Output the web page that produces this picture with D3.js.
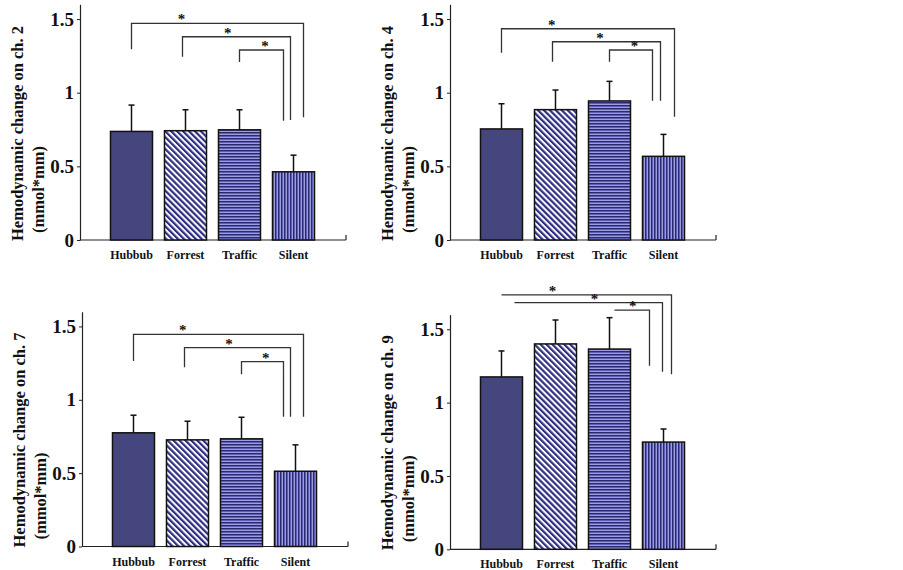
<!DOCTYPE html>
<html>
<head>
<meta charset="utf-8">
<script src="https://cdn.jsdelivr.net/npm/d3@7"></script>
<style>
  body { margin: 0; background: #fff; }
  text { font-family: "Liberation Serif", "Times New Roman", serif; font-weight: bold; }
</style>
</head>
<body>
<script>
// --- data ---
const categories = ["Hubbub", "Forrest", "Traffic", "Silent"];
const channels = ["ch. 2", "ch. 4", "ch. 7", "ch. 9"];
const means = [
  [0.737, 0.742, 0.748, 0.463],
  [0.754, 0.885, 0.944, 0.568],
  [0.775, 0.727, 0.734, 0.513],
  [1.175, 1.400, 1.365, 0.731]
];
const sds = [
  [0.179, 0.142, 0.136, 0.113],
  [0.171, 0.133, 0.133, 0.149],
  [0.120, 0.127, 0.147, 0.180],
  [0.177, 0.163, 0.214, 0.089]
];
const yTicks = [0, 0.5, 1, 1.5];
// significance brackets: from category -> Silent, bar level, left/right leg ends (in y units)
const brackets = [
  [ {from: "Hubbub", level: 1.471, left: 1.295, right: 0.833},
    {from: "Forrest", level: 1.380, left: 1.244, right: 0.815},
    {from: "Traffic", level: 1.290, left: 1.208, right: 0.810} ],
  [ {from: "Hubbub", level: 1.434, left: 1.272, right: 0.837},
    {from: "Forrest", level: 1.346, left: 1.210, right: 0.946},
    {from: "Traffic", level: 1.290, left: 1.210, right: 0.946} ],
  [ {from: "Hubbub", level: 1.446, left: 1.265, right: 0.885},
    {from: "Forrest", level: 1.355, left: 1.222, right: 0.885},
    {from: "Traffic", level: 1.260, left: 1.174, right: 0.885} ],
  [ {from: "Hubbub", level: 1.734, left: null, right: 1.193},
    {from: "Hubbub", level: 1.681, left: null, right: 1.211},
    {from: "Traffic", level: 1.631, left: null, right: 1.252} ]
];

// --- layout ---
const panels = [
  {ax: 80,  base: 240,   k: 147.3},
  {ax: 450, base: 240,   k: 147.3},
  {ax: 82,  base: 546.5, k: 146.7},
  {ax: 450, base: 549.3, k: 146.7}
];
// x offsets (px) of bracket ends: left relative to band centre, right relative to Silent band start; star at fraction
const bracketGeom = [
  [ {l: 0, r: 31, s: 0.29}, {l: -3, r: 18, s: 0.42}, {l: 0, r: 11, s: 0.58} ],
  [ {l: 0, r: 32, s: 0.29}, {l: -3, r: 18, s: 0.44}, {l: 0, r: 10, s: 0.58} ],
  [ {l: 0, r: 29, s: 0.29}, {l: -3, r: 16, s: 0.42}, {l: 0, r: 9,  s: 0.58} ],
  [ {l: 0, r: 29, s: 0.30}, {l: 13, r: 20, s: 0.54}, {l: 5, r: 7,  s: 0.52} ]
];

const navy = "#46467f";
const svg = d3.select("body").append("svg")
  .attr("width", 903)
  .attr("height", 570);

const defs = svg.append("defs");
const pDiag = defs.append("pattern").attr("id", "pDiag")
  .attr("patternUnits", "userSpaceOnUse").attr("width", 4.2).attr("height", 4.2)
  .attr("patternTransform", "rotate(-45)");
pDiag.append("rect").attr("width", 4.2).attr("height", 4.2).attr("fill", "#fff");
pDiag.append("rect").attr("width", 2.2).attr("height", 4.2).attr("fill", "#2e2e82");

// horizontal stripes: dark / mid / light rows
const pHor = defs.append("pattern").attr("id", "pHor")
  .attr("patternUnits", "userSpaceOnUse").attr("width", 4).attr("height", 3);
pHor.append("rect").attr("width", 4).attr("height", 3).attr("fill", "#5d5db3");
pHor.append("rect").attr("width", 4).attr("height", 1).attr("fill", "#2a2a72");
pHor.append("rect").attr("y", 2).attr("width", 4).attr("height", 1).attr("fill", "#9d9ddc");

const pVer = defs.append("pattern").attr("id", "pVer")
  .attr("patternUnits", "userSpaceOnUse").attr("width", 3).attr("height", 4);
pVer.append("rect").attr("width", 3).attr("height", 4).attr("fill", "#5d5db3");
pVer.append("rect").attr("width", 1).attr("height", 4).attr("fill", "#2a2a72");
pVer.append("rect").attr("x", 2).attr("width", 1).attr("height", 4).attr("fill", "#9d9ddc");

const fills = d3.scaleOrdinal().domain(categories)
  .range([navy, "url(#pDiag)", "url(#pHor)", "url(#pVer)"]);

panels.forEach((p, i) => {
  const g = svg.append("g").attr("transform", `translate(${p.ax},0)`);

  const y = d3.scaleLinear().domain([0, 1.6]).range([p.base, p.base - 1.6 * p.k]);
  const x = d3.scaleBand().domain(categories).range([18.5, 246.5])
    .paddingInner(0.222).paddingOuter(0.222);

  // y axis
  const yAxis = g.append("g")
    .call(d3.axisLeft(y).tickValues(yTicks).tickFormat(d3.format("~g"))
      .tickSize(3).tickSizeOuter(0).tickPadding(3));
  yAxis.select(".domain").attr("stroke", "#222").attr("stroke-width", 1.2);
  yAxis.selectAll(".tick line").attr("stroke", "#222");
  yAxis.selectAll(".tick text")
    .attr("font-size", 19)
    .attr("font-family", "Liberation Serif, serif")
    .attr("font-weight", "bold")
    .attr("fill", "#111");

  // x axis
  g.append("line").attr("x1", 0).attr("x2", 266)
    .attr("y1", p.base).attr("y2", p.base)
    .attr("stroke", "#222").attr("stroke-width", 1.2);
  g.append("line").attr("x1", 266).attr("x2", 266)
    .attr("y1", p.base).attr("y2", p.base - 5)
    .attr("stroke", "#222").attr("stroke-width", 1.2);

  const rows = categories.map((c, j) => ({cat: c, mean: means[i][j], sd: sds[i][j]}));

  // bars
  g.selectAll("rect.bar")
    .data(rows)
    .enter()
    .append("rect")
    .attr("class", "bar")
    .attr("x", d => x(d.cat))
    .attr("width", x.bandwidth())
    .attr("y", d => y(d.mean))
    .attr("height", d => y(0) - y(d.mean))
    .attr("fill", d => fills(d.cat))
    .attr("stroke", "#111")
    .attr("stroke-width", 1.5);

  // error bars (upper only)
  const cx = d => x(d.cat) + x.bandwidth() / 2;
  g.selectAll("line.err")
    .data(rows)
    .enter()
    .append("line")
    .attr("class", "err")
    .attr("x1", cx).attr("x2", cx)
    .attr("y1", d => y(d.mean)).attr("y2", d => y(d.mean + d.sd))
    .attr("stroke", "#111").attr("stroke-width", 1.5);
  g.selectAll("line.cap")
    .data(rows)
    .enter()
    .append("line")
    .attr("class", "cap")
    .attr("x1", d => cx(d) - 3).attr("x2", d => cx(d) + 3)
    .attr("y1", d => y(d.mean + d.sd)).attr("y2", d => y(d.mean + d.sd))
    .attr("stroke", "#111").attr("stroke-width", 1.5);

  // category labels
  g.selectAll("text.cat")
    .data(categories)
    .enter()
    .append("text")
    .attr("class", "cat")
    .attr("x", d => x(d) + x.bandwidth() / 2)
    .attr("y", p.base + 19)
    .attr("text-anchor", "middle")
    .attr("font-size", 12)
    .attr("fill", "#111")
    .text(d => d);

  // significance brackets
  brackets[i].forEach((b, j) => {
    const geo = bracketGeom[i][j];
    const xl = x(b.from) + x.bandwidth() / 2 + geo.l;
    const xr = x("Silent") + geo.r;
    let path = "";
    if (b.left !== null) path += `M${xl},${y(b.left)}L${xl},${y(b.level)}`;
    else path += `M${xl},${y(b.level)}`;
    path += `L${xr},${y(b.level)}L${xr},${y(b.right)}`;
    g.append("path").attr("d", path)
      .attr("fill", "none").attr("stroke", "#333").attr("stroke-width", 1.3);
    g.append("text")
      .attr("x", xl + (xr - xl) * geo.s)
      .attr("y", y(b.level) + 1)
      .attr("text-anchor", "middle")
      .attr("font-size", 15)
      .attr("fill", "#111")
      .text("*");
  });

  // axis title (two lines, rotated)
  const title = svg.append("g")
    .attr("transform", `translate(${p.ax - 80},${p.base + 1}) rotate(-90)`);
  title.append("text").attr("x", 0).attr("y", 23)
    .attr("font-size", 16.5).attr("fill", "#111")
    .text("Hemodynamic change on " + channels[i]);
  title.append("text").attr("x", 8).attr("y", 44)
    .attr("font-size", 16.5).attr("fill", "#111")
    .text("(mmol*mm)");
});
</script>
</body>
</html>
